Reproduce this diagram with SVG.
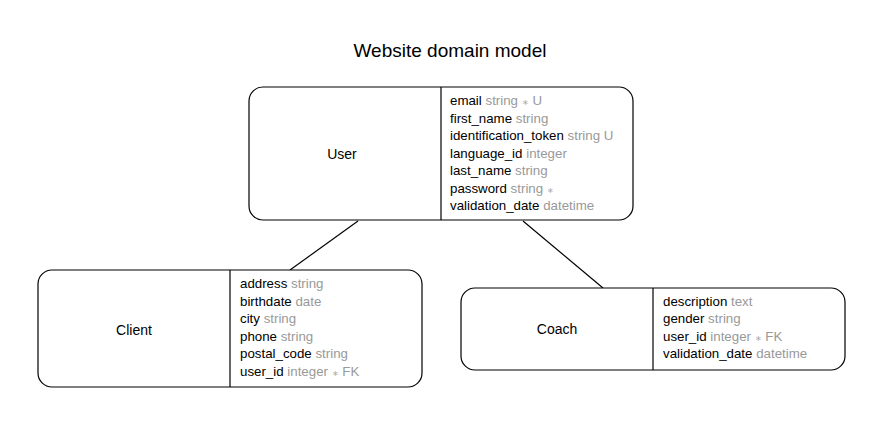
<svg xmlns="http://www.w3.org/2000/svg" width="883" height="427" viewBox="0 0 883 427">
<style>
.box{fill:#fff;stroke:#000;stroke-width:1.2}
.div{stroke:#000;stroke-width:1.2}
.edge{stroke:#000;stroke-width:1.2;fill:none}
text{font-family:"Liberation Sans",Arial,sans-serif}
.title{font-size:19px;fill:#000}
.name{font-size:14px;fill:#000}
.f{font-size:13.3px;fill:#000}
.t{fill:#999}
.s{font-size:8px;fill:#aaa}
</style>
<rect width="883" height="427" fill="#fff"/>
<text class="title" x="450" y="57" text-anchor="middle">Website domain model</text>
<g id="connectors">
<line class="edge" x1="358" y1="221" x2="290" y2="270"/>
<line class="edge" x1="523" y1="221" x2="603" y2="288"/>
</g>
<g id="User">
<rect class="box" x="249" y="87" width="384" height="133" rx="14"/>
<line class="div" x1="441" y1="87" x2="441" y2="220"/>
<text class="name" x="342" y="159" text-anchor="middle">User</text>
<text class="f" x="450" y="105">email <tspan class="t">string <tspan class="s">∗</tspan> U</tspan></text>
<text class="f" x="450" y="122.5">first_name <tspan class="t">string</tspan></text>
<text class="f" x="450" y="140">identification_token <tspan class="t">string U</tspan></text>
<text class="f" x="450" y="157.5">language_id <tspan class="t">integer</tspan></text>
<text class="f" x="450" y="175">last_name <tspan class="t">string</tspan></text>
<text class="f" x="450" y="192.5">password <tspan class="t">string <tspan class="s">∗</tspan></tspan></text>
<text class="f" x="450" y="210">validation_date <tspan class="t">datetime</tspan></text>
</g>
<g id="Client">
<rect class="box" x="38" y="270" width="384" height="117" rx="14"/>
<line class="div" x1="230" y1="270" x2="230" y2="387"/>
<text class="name" x="134" y="335" text-anchor="middle">Client</text>
<text class="f" x="240" y="288">address <tspan class="t">string</tspan></text>
<text class="f" x="240" y="305.5">birthdate <tspan class="t">date</tspan></text>
<text class="f" x="240" y="323">city <tspan class="t">string</tspan></text>
<text class="f" x="240" y="340.5">phone <tspan class="t">string</tspan></text>
<text class="f" x="240" y="358">postal_code <tspan class="t">string</tspan></text>
<text class="f" x="240" y="375.5">user_id <tspan class="t">integer <tspan class="s">∗</tspan> FK</tspan></text>
</g>
<g id="Coach">
<rect class="box" x="461" y="288" width="384" height="82" rx="14"/>
<line class="div" x1="653" y1="288" x2="653" y2="370"/>
<text class="name" x="557" y="334" text-anchor="middle">Coach</text>
<text class="f" x="663" y="305.5">description <tspan class="t">text</tspan></text>
<text class="f" x="663" y="323">gender <tspan class="t">string</tspan></text>
<text class="f" x="663" y="340.5">user_id <tspan class="t">integer <tspan class="s">∗</tspan> FK</tspan></text>
<text class="f" x="663" y="358">validation_date <tspan class="t">datetime</tspan></text>
</g>
</svg>
